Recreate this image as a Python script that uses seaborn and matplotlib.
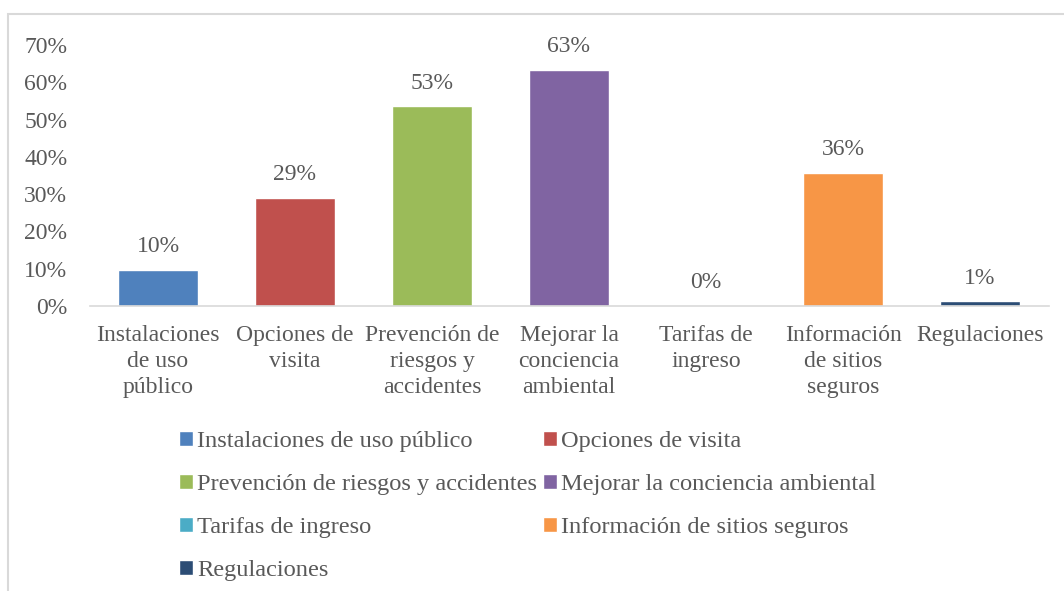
import pandas as pd
import matplotlib.pyplot as plt
import seaborn as sns
from matplotlib.patches import Rectangle

# Data
categorias = ['Instalaciones de uso público', 'Opciones de visita',
              'Prevención de riesgos y accidentes', 'Mejorar la conciencia ambiental',
              'Tarifas de ingreso', 'Información de sitios seguros', 'Regulaciones']
etiquetas_x = ['Instalaciones\nde uso\npúblico', 'Opciones de\nvisita',
               'Prevención de\nriesgos y\naccidentes', 'Mejorar la\nconciencia\nambiental',
               'Tarifas de\ningreso', 'Información\nde sitios\nseguros', 'Regulaciones']
porcentajes = [9.7, 29.0, 53.6, 63.3, 0.0, 35.7, 1.3]
etiquetas_valor = ['10%', '29%', '53%', '63%', '0%', '36%', '1%']
colores = ['#4F81BD', '#C0504D', '#9BBB59', '#8064A2', '#4BACC6', '#F79646', '#2C4D75']

df = pd.DataFrame({'categoria': categorias, 'pct': porcentajes})

sns.set_style("white")
plt.rcParams['font.family'] = ['Liberation Serif', 'DejaVu Serif']
gris = '#595959'
fs = 17

fig = plt.figure(figsize=(10.64, 5.91), dpi=100)
ax = fig.add_axes([89.5 / 1064, 1 - 306 / 591, 959 / 1064, 261 / 591])

sns.barplot(data=df, x='categoria', y='pct', hue='categoria', palette=colores,
            width=0.58, dodge=False, legend=True, ax=ax, saturation=1)

for cont, lab in zip(ax.containers, etiquetas_valor):
    ax.bar_label(cont, labels=[lab], padding=9, fontsize=fs, color=gris)

ax.set_ylim(0, 70)
ax.set_yticks(range(0, 71, 10))
ax.set_yticklabels([f'{v}%' for v in range(0, 71, 10)])
ax.set_xlim(-0.5, 6.5)
ax.set_xticks(range(len(etiquetas_x)))
ax.set_xticklabels(etiquetas_x, linespacing=1.3)
ax.tick_params(axis='y', length=0, pad=16, labelsize=fs, labelcolor=gris)
ax.tick_params(axis='x', length=0, pad=14, labelsize=fs, labelcolor=gris)
ax.set_xlabel('')
ax.set_ylabel('')
for s in ['top', 'right', 'left']:
    ax.spines[s].set_visible(False)
ax.spines['bottom'].set_color('#D9D9D9')
ax.spines['bottom'].set_linewidth(1.2)

# Legend, row-wise order in two columns
handles, labels = ax.get_legend_handles_labels()
orden = [0, 2, 4, 6, 1, 3, 5]
ax.legend([handles[i] for i in orden], [labels[i] for i in orden],
          ncol=2, frameon=False, loc='upper left',
          bbox_to_anchor=(179 / 1064, 1 - 431 / 591), bbox_transform=fig.transFigure,
          fontsize=17.6, labelcolor=gris, handlelength=0.56, handleheight=0.56,
          handletextpad=0.18, columnspacing=0.25, labelspacing=0.9, borderpad=0,
          borderaxespad=0)

# Chart frame
fig.patches.append(Rectangle((8 / 1064, -0.1), 1.2, 1 - 14 / 591 + 0.1,
                             transform=fig.transFigure, fill=False,
                             edgecolor='#D9D9D9', linewidth=1.5))

fig.savefig('out.png', dpi=100)
